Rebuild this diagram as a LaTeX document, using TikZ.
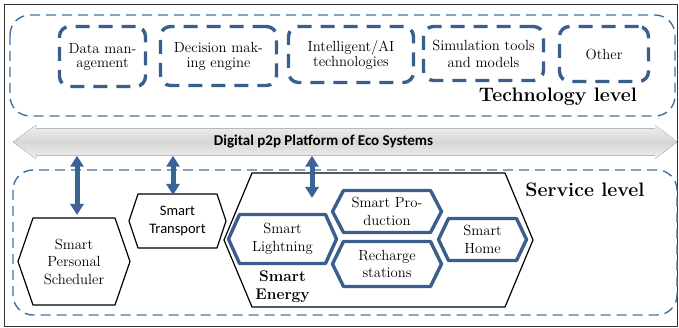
\documentclass[tikz,border=0pt]{standalone}
\usepackage{fontspec}
\newfontfamily\calibrifam{Carlito}
\usepackage{xcolor}
\usetikzlibrary{arrows.meta, positioning}

\definecolor{lvlblue}{HTML}{41719C}
\definecolor{boxblue}{HTML}{3A5F8C}
\definecolor{arrowblue}{HTML}{3B6394}

% hexagon outline around a rectangular node: name, corner inset
\newcommand{\hexframe}[3][]{%
  \draw[#1] (#2.west) -- ([xshift=#3]#2.north west) -- ([xshift=-#3]#2.north east)
    -- (#2.east) -- ([xshift=-#3]#2.south east) -- ([xshift=#3]#2.south west) -- cycle;}

\begin{document}
\begin{tikzpicture}[x=1pt, y=-1pt,
    level/.style={draw=lvlblue, line width=1.4pt, dash pattern=on 10pt off 6pt, rounded corners=20pt},
    levelname/.style={font=\rmfamily\bfseries\fontsize{19.5}{22}\selectfont, inner sep=0pt},
    techbox/.style={draw=boxblue, line width=3.4pt, dash pattern=on 14pt off 9pt, rounded corners=10pt,
        inner sep=0pt, align=center, font=\rmfamily\fontsize{14.7}{15}\selectfont},
    hexnode/.style={inner sep=0pt, outer sep=0pt, align=center, font=\rmfamily\fontsize{14.7}{17.5}\selectfont},
    blackhex/.style={black, line width=1.2pt, line join=round},
    bluehex/.style={boxblue, line width=3.4pt, line join=round},
    updown/.style={arrowblue, line width=5pt, {Triangle[width=13pt,length=11pt]}-{Triangle[width=13pt,length=11pt]}}]

    \useasboundingbox (0,0) rectangle (679,328);
    \draw[line width=0.8pt, black!80] (4,4) rectangle (677.7,326.5);

    % technology level
    \draw[level] (10,15) rectangle (675,116);
    \node[techbox, minimum width=86pt, minimum height=60pt, font=\rmfamily\fontsize{14.7}{14}\selectfont] (data) at (102.5,56.5) {Data man-\\agement};
    \node[techbox, minimum width=116pt, minimum height=59pt] (decision) at (218.5,56) {Decision mak-\\ing engine};
    \node[techbox, minimum width=125pt, minimum height=56pt] (intel) at (351,54.5) {Intelligent/AI\\technologies};
    \node[techbox, minimum width=120pt, minimum height=54pt, font=\rmfamily\fontsize{14.7}{17}\selectfont] (sim) at (483.5,53.5) {Simulation tools\\and models};
    \node[techbox, minimum width=89pt, minimum height=55pt] (other) at (604,54) {Other};
    \node[levelname] (techlabel) at (558,97) {Technology level};

    % platform
    \fill[top color=gray!12, bottom color=gray!12, middle color=gray!32]
        (13,142) -- (36,125) -- (36,128.5) -- (655,128.5) -- (655,125) -- (677,142)
        -- (655,159) -- (655,155.5) -- (36,155.5) -- (36,159) -- cycle;
    \node[font=\calibrifam\bfseries\fontsize{15}{17}\selectfont, minimum height=27pt, inner sep=0pt] (platform) at (323.5,142) {Digital p2p Platform of Eco Systems};

    % service level
    \draw[level] (13,170) rectangle (677,315);
    \node[levelname] (servlabel) at (585,190) {Service level};

    \node[hexnode, minimum width=112pt, minimum height=87pt] (sched) at (74,261.5) {Smart\\Personal\\Scheduler};
    \node[hexnode, minimum width=97pt, minimum height=54pt, font=\calibrifam\fontsize{14.5}{17.5}\selectfont] (transport) at (177.5,221) {Smart\\Transport};
    \node[hexnode, minimum width=309pt, minimum height=134pt] (energy) at (378.5,240) {};
    \node[hexnode, minimum width=108pt, minimum height=49pt] (lightning) at (282.5,239) {Smart\\Lightning};
    \node[hexnode, minimum width=109pt, minimum height=42pt] (production) at (387,211.5) {Smart Pro-\\duction};
    \node[hexnode, minimum width=109pt, minimum height=45pt] (recharge) at (387,264) {Recharge\\stations};
    \node[hexnode, minimum width=88pt, minimum height=42pt] (home) at (482.5,239.5) {Smart\\Home};
    \node[hexnode, below=7pt of lightning, font=\rmfamily\bfseries\fontsize{15.5}{18}\selectfont] (energylabel) {Smart\\Energy};

    \hexframe[blackhex]{sched}{15pt}
    \hexframe[blackhex]{transport}{9pt}
    \hexframe[blackhex]{energy}{28pt}
    \hexframe[bluehex]{lightning}{11pt}
    \hexframe[bluehex]{production}{11pt}
    \hexframe[bluehex]{recharge}{11pt}
    \hexframe[bluehex]{home}{10pt}

    \draw[updown] ([xshift=3pt]sched.north |- platform.south) -- ([xshift=3pt,yshift=3pt]sched.north);
    \draw[updown] ([xshift=-4.5pt]transport.north |- platform.south) -- ([xshift=-4.5pt,yshift=-1pt]transport.north);
    \draw[updown] ([xshift=-66.5pt]energy.north |- platform.south) -- ([xshift=-66.5pt,yshift=-25pt]energy.north);

\end{tikzpicture}
\end{document}
